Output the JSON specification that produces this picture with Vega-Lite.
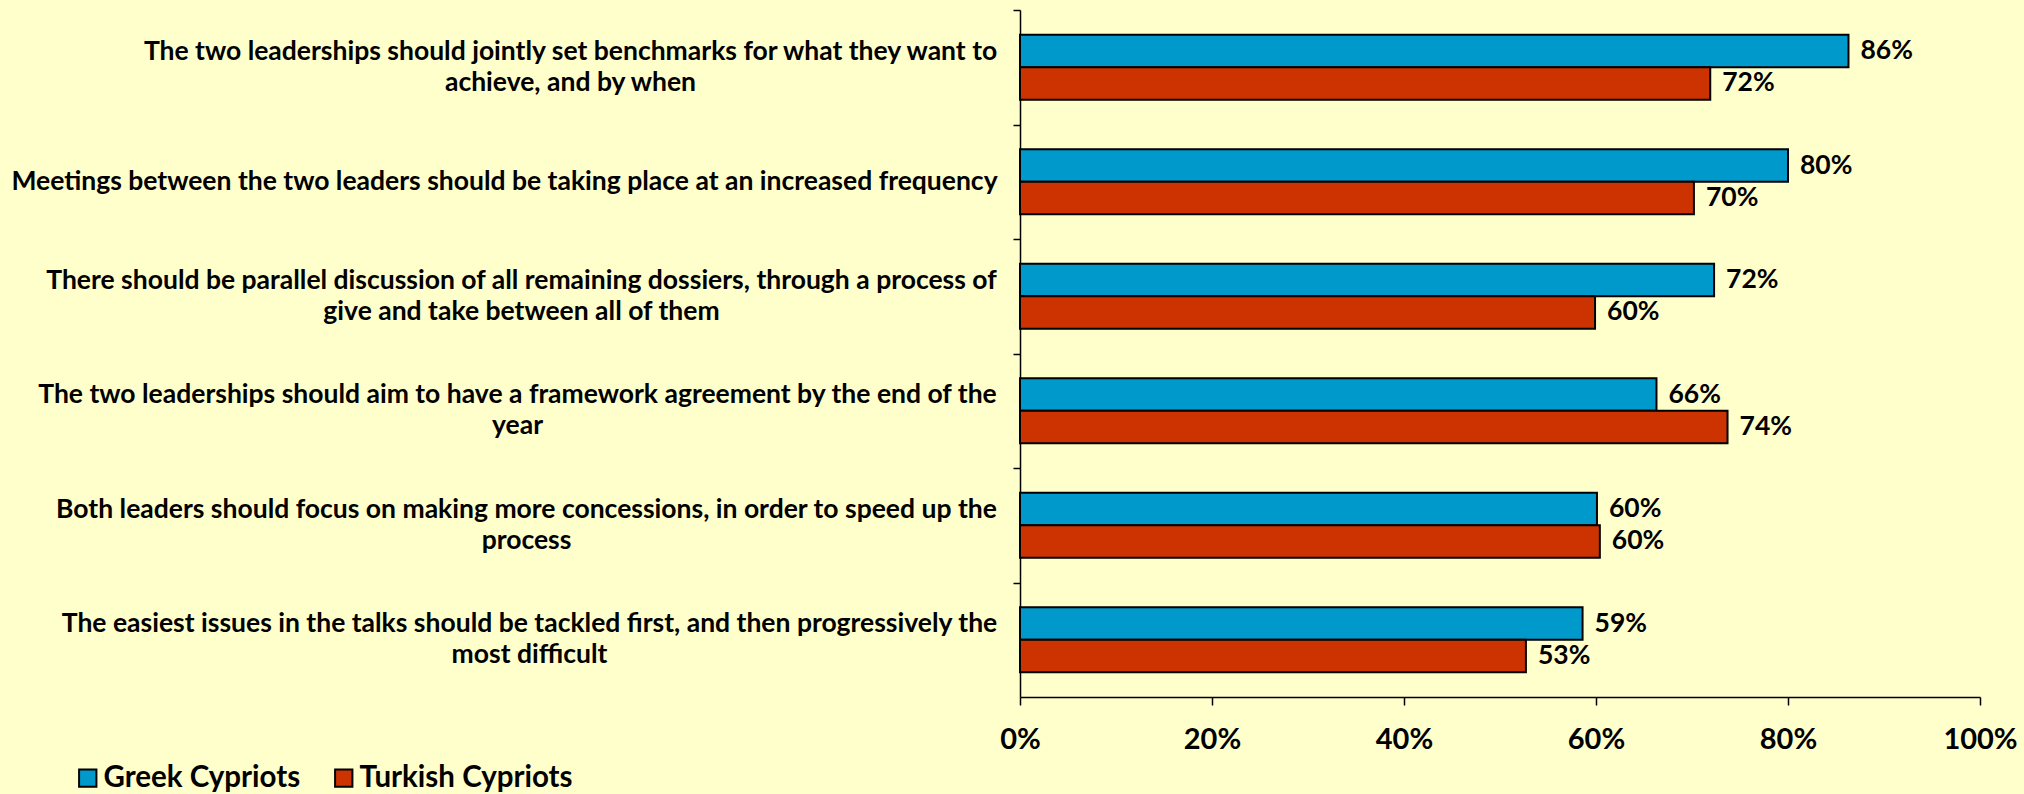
{
  "$schema": "https://vega.github.io/schema/vega-lite/v6.json",
  "autosize": {"type": "none"},
  "width": 960,
  "height": 687,
  "padding": {"left": 1020, "top": 10, "right": 44, "bottom": 97},
  "background": "#FFFFCC",
  "config": {
    "view": {"stroke": null},
    "font": "Lato",
    "axis": {"labelFont": "Lato", "labelFontWeight": "bold", "labelColor": "#000000", "domainColor": "#000000", "tickColor": "#000000"},
    "legend": {"labelFont": "Lato"}
  },
  "data": {
    "values": [
      {"q": "The two leaderships should jointly set benchmarks for what they want to|achieve, and by when", "group": "Greek Cypriots", "value": 0.863},
      {"q": "The two leaderships should jointly set benchmarks for what they want to|achieve, and by when", "group": "Turkish Cypriots", "value": 0.719},
      {"q": "Meetings between the two leaders should be taking place at an increased frequency", "group": "Greek Cypriots", "value": 0.800},
      {"q": "Meetings between the two leaders should be taking place at an increased frequency", "group": "Turkish Cypriots", "value": 0.702},
      {"q": "There should be parallel discussion of all remaining dossiers, through a process of|give and take between all of them", "group": "Greek Cypriots", "value": 0.723},
      {"q": "There should be parallel discussion of all remaining dossiers, through a process of|give and take between all of them", "group": "Turkish Cypriots", "value": 0.599},
      {"q": "The two leaderships should aim to have a framework agreement by the end of the|year", "group": "Greek Cypriots", "value": 0.663},
      {"q": "The two leaderships should aim to have a framework agreement by the end of the|year", "group": "Turkish Cypriots", "value": 0.737},
      {"q": "Both leaders should focus on making more concessions, in order to speed up the|process", "group": "Greek Cypriots", "value": 0.601},
      {"q": "Both leaders should focus on making more concessions, in order to speed up the|process", "group": "Turkish Cypriots", "value": 0.604},
      {"q": "The easiest issues in the talks should be tackled first, and then progressively the|most difficult", "group": "Greek Cypriots", "value": 0.586},
      {"q": "The easiest issues in the talks should be tackled first, and then progressively the|most difficult", "group": "Turkish Cypriots", "value": 0.527}
    ]
  },
  "encoding": {
    "y": {
      "field": "q", "type": "nominal", "sort": null, "title": null,
      "scale": {"paddingInner": 0.434, "paddingOuter": 0.217},
      "axis": {
        "labelExpr": "split(datum.value, '|')",
        "labelAlign": "center",
        "labelBaseline": {"condition": {"test": "indexof(datum.value, '|') >= 0", "value": "line-bottom"}, "value": "middle"},
        "labelPadding": {
          "condition": [
            {"test": "indexof(datum.value, 'benchmarks') >= 0", "value": 443},
            {"test": "indexof(datum.value, 'Meetings') >= 0", "value": 509},
            {"test": "indexof(datum.value, 'parallel') >= 0", "value": 492},
            {"test": "indexof(datum.value, 'framework') >= 0", "value": 496},
            {"test": "indexof(datum.value, 'concessions') >= 0", "value": 487},
            {"test": "indexof(datum.value, 'easiest') >= 0", "value": 484}
          ],
          "value": 480
        },
        "labelFontSize": 26.5,
        "labelLineHeight": 31,
        "labelLimit": 1100,
        "tickOffset": -57.25,
        "labelOffset": 57.25,
        "tickSize": 7,
        "domainWidth": 1.5,
        "tickWidth": 1.5
      }
    },
    "yOffset": {"field": "group", "type": "nominal", "sort": ["Greek Cypriots", "Turkish Cypriots"]},
    "x": {
      "field": "value", "type": "quantitative", "title": null,
      "scale": {"domain": [0, 1]},
      "axis": {
        "format": ".0%", "values": [0, 0.2, 0.4, 0.6, 0.8, 1],
        "grid": false, "labelFontSize": 29, "labelPadding": 20, "labelFlush": false,
        "tickSize": 8, "domainWidth": 1.5, "tickWidth": 1.5
      }
    }
  },
  "layer": [
    {
      "mark": {"type": "bar", "stroke": "#000000", "strokeWidth": 2},
      "encoding": {
        "color": {
          "field": "group", "type": "nominal",
          "scale": {"domain": ["Greek Cypriots", "Turkish Cypriots"], "range": ["#0099CC", "#CC3300"]},
          "legend": {
            "title": null, "orient": "none", "direction": "horizontal",
            "legendX": -947, "legendY": 753,
            "symbolType": "square", "symbolSize": 300,
            "symbolStrokeColor": "#000000", "symbolStrokeWidth": 2, "symbolOpacity": 1,
            "labelFontSize": 29.5, "labelFontWeight": "bold", "labelColor": "#000000",
            "labelLimit": 400, "labelOffset": 1, "columnPadding": 28
          }
        }
      }
    },
    {
      "mark": {"type": "text", "align": "left", "baseline": "middle", "dx": 12, "fontSize": 26.5, "fontWeight": "bold", "color": "#000000"},
      "encoding": {
        "text": {"field": "value", "type": "quantitative", "format": ".0%"}
      }
    }
  ]
}
